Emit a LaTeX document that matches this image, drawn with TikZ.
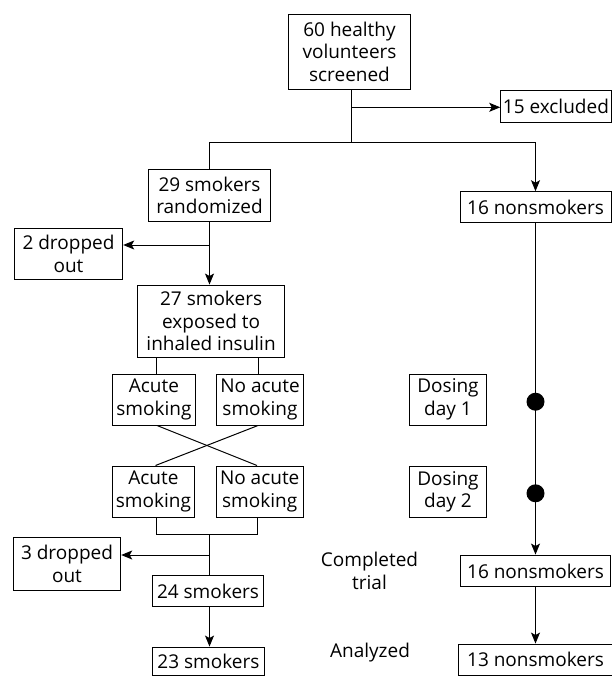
\documentclass[tikz,border=0pt]{standalone}
\usepackage{fontspec}
\setmainfont{Open Sans}
\usetikzlibrary{arrows.meta}
\begin{document}
\begin{tikzpicture}[x=1pt,y=-1pt,
  font=\fontsize{19}{22.5}\selectfont,
  box/.style={draw, line width=1pt, align=center, inner sep=0pt},
  conn/.style={line width=1pt},
  arr/.style={conn, -{Stealth[length=11pt,width=9pt,inset=2.5pt]}},
  lbl/.style={align=center, inner sep=0pt}]
\useasboundingbox (0,0) rectangle (612,677);
% boxes
\node[box, minimum width=122.4, minimum height=75.3] (top) at (349.5,51.7) {60 healthy\\volunteers\\screened};
\node[box, minimum width=110.3, minimum height=32] (excl) at (555.9,106.7) {15 excluded};
\node[box, minimum width=122.4, minimum height=51.7] (r29) at (209.5,195.2) {29 smokers\\randomized};
\node[box, minimum width=151, minimum height=31] (non1) at (535.5,207.2) {16 nonsmokers};
\node[box, minimum width=108.4, minimum height=50.7] (drop2) at (68.5,253.7) {2 dropped\\out};
\node[box, minimum width=146.8, minimum height=72.3] (e27) at (211.1,321.2) {27 smokers\\exposed to\\inhaled insulin};
\node[box, minimum width=82.3, minimum height=51] (a1) at (153.9,399.5) {Acute\\smoking};
\node[box, minimum width=86.6, minimum height=51] (n1) at (260,399.5) {No acute\\smoking};
\node[box, minimum width=81.3, minimum height=51] (a2) at (153.4,491.5) {Acute\\smoking};
\node[box, minimum width=87.3, minimum height=51] (n2) at (259.7,491.5) {No acute\\smoking};
\node[box, minimum width=77.4, minimum height=51] (d1) at (448,399.5) {Dosing\\day 1};
\node[box, minimum width=77.4, minimum height=50.6] (d2) at (448,492) {Dosing\\day 2};
\node[box, minimum width=107.4, minimum height=52.3] (drop3) at (67,563.9) {3 dropped\\out};
\node[box, minimum width=110.6, minimum height=31.7] (s24) at (208,590.9) {24 smokers};
\node[box, minimum width=149.7, minimum height=31.7] (non2) at (535.5,570.9) {16 nonsmokers};
\node[box, minimum width=111.3, minimum height=28.5] (s23) at (208.4,661.3) {23 smokers};
\node[box, minimum width=153.3, minimum height=31.5] (non3) at (535.5,659.8) {13 nonsmokers};
\node[lbl] (comp) at (369.5,571) {Completed\\trial};
\node[lbl] (anal) at (370,653) {Analyzed};
% coordinates
\coordinate (t1) at (351.7,107.3);
\coordinate (t2) at (351.7,142);
\coordinate (tl) at (209.5,142);
\coordinate (tr) at (535.5,142);
\coordinate (b2) at (209.5,245);
\coordinate (j1) at (209.5,534);
\coordinate (b3) at (209.5,555);
\coordinate (ja) at (156.7,534);
\coordinate (jn) at (257.7,534);
% connectors
\draw[conn] (top.south -| t1) -- (t2);
\draw[arr] (t1) -- (t1 -| excl.west);
\draw[conn] (tl) -- (tr);
\draw[conn] (tl) -- (r29.north);
\draw[arr] (tr) -- (non1.north);
\draw[arr] (r29.south) -- (e27.north -| r29.south);
\draw[arr] (b2) -- (b2 -| drop2.east);
\draw[conn] (e27.south -| 156.7,0) -- (a1.north -| 156.7,0);
\draw[conn] (e27.south -| 258.3,0) -- (n1.north -| 258.3,0);
\draw[conn] (a1.south -| 157,0) -- (n2.north -| 257,0);
\draw[conn] (n1.south -| 258,0) -- (a2.north -| 155.5,0);
\draw[conn] (a2.south -| ja) -- (ja) -- (jn) -- (n2.south -| jn);
\draw[conn] (j1) -- (s24.north -| j1);
\draw[arr] (b3) -- (b3 -| drop3.east);
\draw[arr] (s24.south -| j1) -- (s23.north -| j1);
\draw[arr] (non1.south) -- (non2.north);
\draw[arr] (non2.south) -- (non3.north);
\fill (d1.east -| non1.south) ++(0,2.2) circle (9);
\fill (d2.east -| non1.south) ++(0,1.3) circle (9);
\end{tikzpicture}
\end{document}
